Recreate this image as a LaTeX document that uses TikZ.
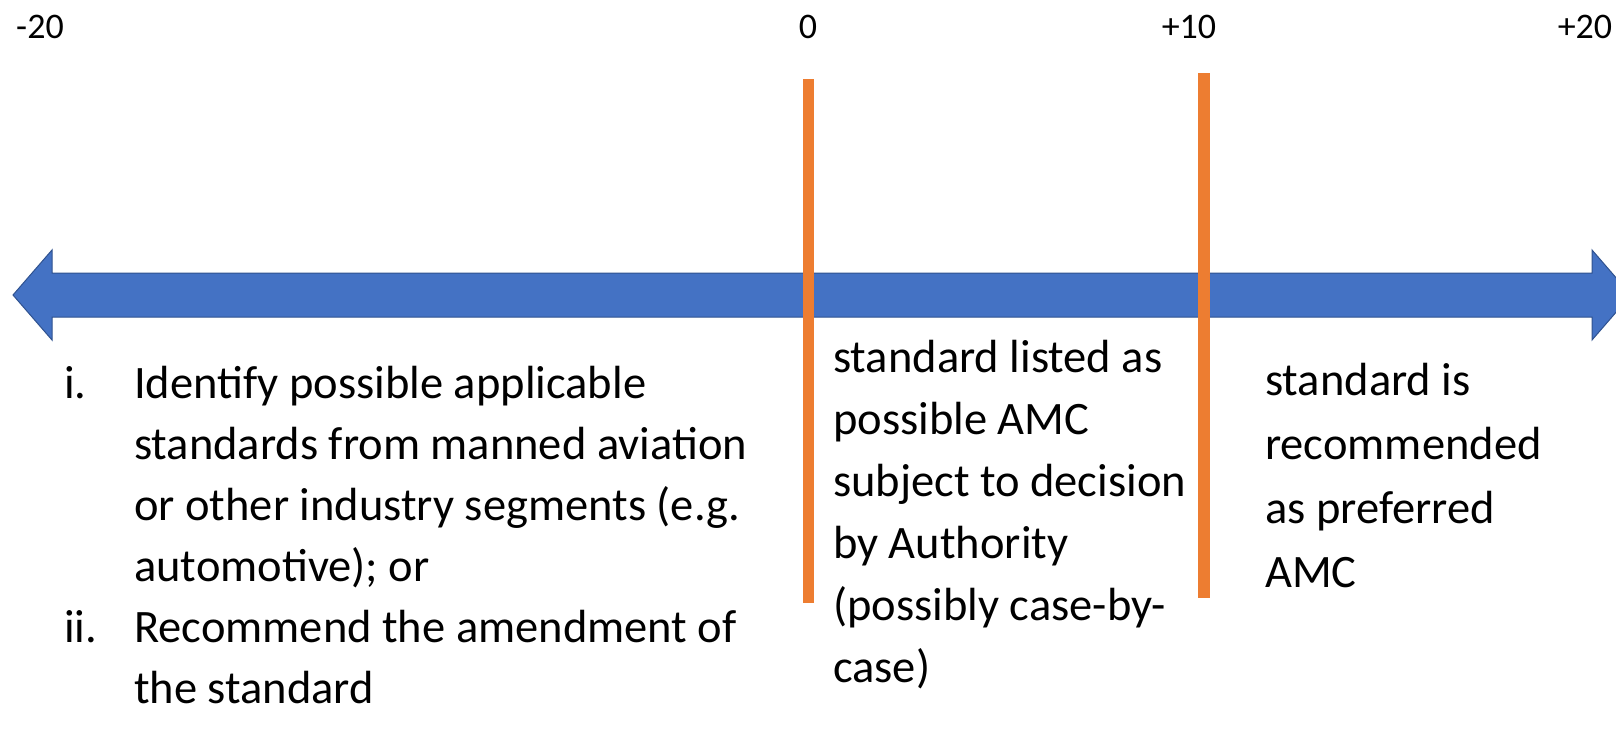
\documentclass[tikz,border=0pt]{standalone}
\usepackage{fontspec}
\setmainfont{Carlito}
\usetikzlibrary{positioning}
\definecolor{axisblue}{HTML}{4472C4}
\definecolor{axisedge}{HTML}{2F528F}
\definecolor{markorange}{HTML}{ED7D31}

\begin{document}
\begin{tikzpicture}[x=1pt, y=-1pt,
      tick/.style={anchor=base, inner sep=0pt, font=\fontsize{36}{43}\selectfont},
      body/.style={anchor=base west, inner sep=0pt, align=left, font=\fontsize{46.5}{61}\selectfont},
      bar/.style={fill=markorange, draw=none}]

\useasboundingbox (0,0) rectangle (1616,738);
\clip (0,0) rectangle (1616,738);

\draw[fill=axisblue, draw=axisedge, line width=1pt] (13,295) -- (52,250) -- (52,273) -- (1592,273) -- (1592,250) -- (1631,295) -- (1592,340) -- (1592,317) -- (52,317) -- (52,340) -- cycle;

\fill[bar] (803,79) rectangle (814,603);
\fill[bar] (1198,73) rectangle (1210,598);

\node[tick] (m20) at (40,39) {-20};
\node[tick] (z0) at (808,39) {0};
\node[tick] (p10) at (1189,39) {+10};
\node[tick] (p20) at (1585,39) {+20};

\node[body] (numi) at (64,398) {i.};
\node[body] (itemi) at (134,581) {Identify possible applicable\\standards from manned aviation\\or other industry segments (e.g.\\automotive); or};
\node[body] (numii) at (64,642) {ii.};
\node[body] (itemii) at (134,703) {Recommend the amendment of\\the standard};

\node[body, font=\fontsize{46.5}{62}\selectfont] (mid) at (833,682) {standard listed as\\possible AMC\\subject to decision\\by Authority\\(possibly case-by-\\case)};
\node[body, font=\fontsize{46.5}{64}\selectfont] (right) at (1265,587) {standard is\\recommended\\as preferred\\AMC};

\end{tikzpicture}
\end{document}
